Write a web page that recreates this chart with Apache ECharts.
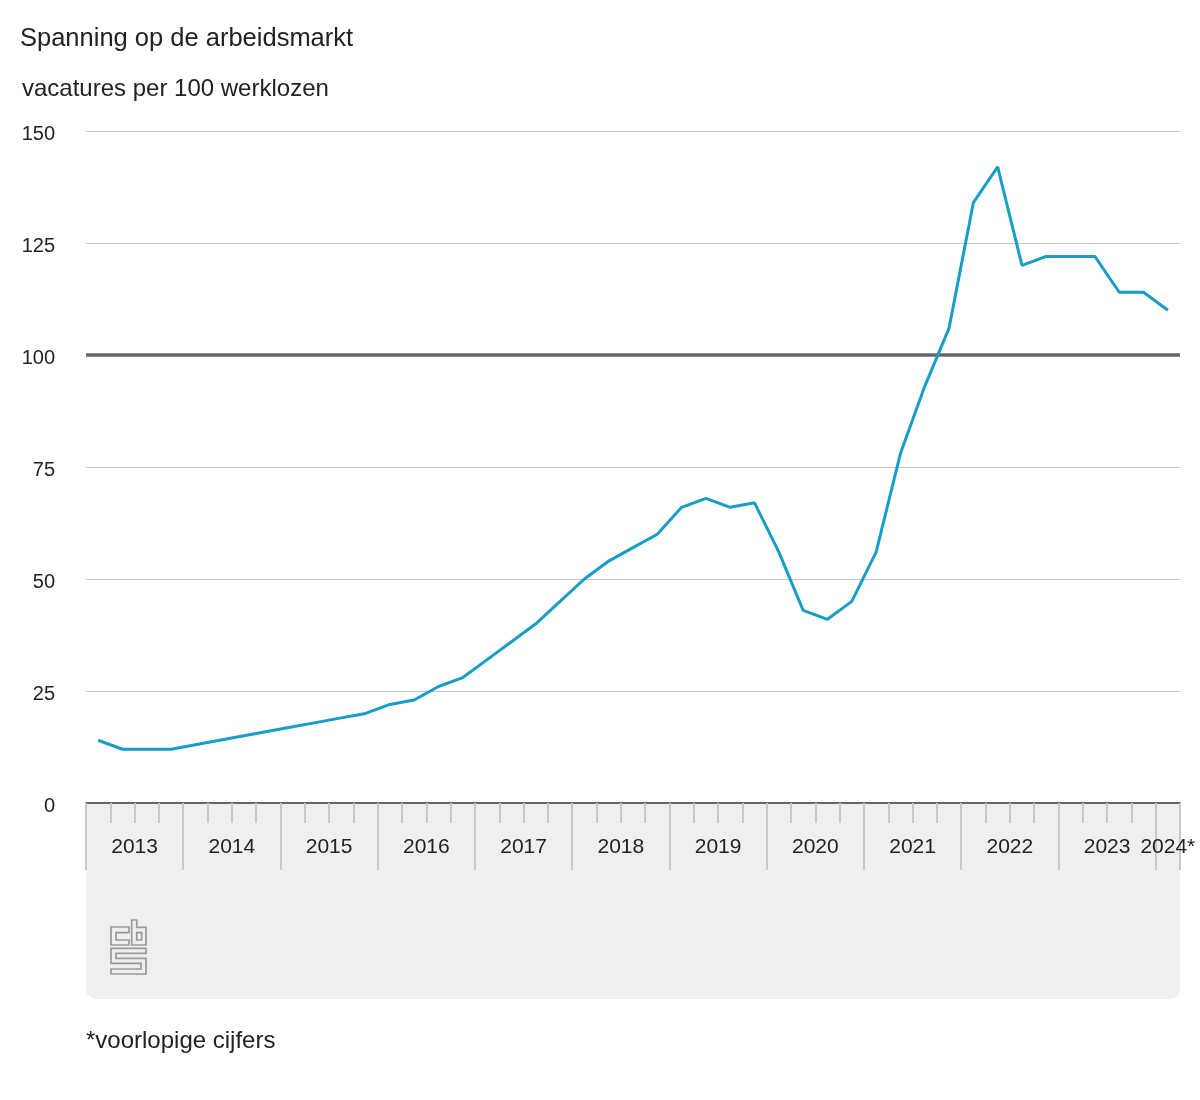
<!DOCTYPE html>
<html>
<head>
<meta charset="utf-8">
<script src="https://cdn.jsdelivr.net/npm/echarts@6/dist/echarts.min.js"></script>
<style>html,body{margin:0;padding:0;background:#fff}#c{width:1200px;height:1100px}</style>
</head>
<body>
<div id="c"></div>
<script>
// Data: vacatures per 100 werklozen, per kwartaal 2013 K1 – 2024 K1
var years = ['2013','2014','2015','2016','2017','2018','2019','2020','2021','2022','2023','2024*'];
var quarterNames = ['K1','K2','K3','K4'];
var values = [
  14, 12, 12, 12,      // 2013
  13, 14, 15, 16,      // 2014
  17, 18, 19, 20,      // 2015
  22, 23, 26, 28,      // 2016
  32, 36, 40, 45,      // 2017
  50, 54, 57, 60,      // 2018
  66, 68, 66, 67,      // 2019
  56, 43, 41, 45,      // 2020
  56, 78, 93, 106,     // 2021
  134, 142, 120, 122,  // 2022
  122, 122, 114, 114,  // 2023
  110                  // 2024
];
var yTicks = [0, 25, 50, 75, 100, 125, 150];
var referenceLevel = 100;

var nQ = values.length;
var seriesData = values.map(function (v, i) {
  return { value: [i + 0.5, v], name: years[Math.floor(i / 4)] + ' ' + quarterNames[i % 4] };
});
// year label centres (in quarter units)
var yearCentres = years.map(function (y, k) {
  var s = 4 * k, e = Math.min(4 * k + 4, nQ);
  return (s + e) / 2;
});

var FONT = '"Liberation Sans", Arial, sans-serif';
var LOGO = { fill: 'none', stroke: '#9a9a9a', lineWidth: 1.7 };
var chart = echarts.init(document.getElementById('c'));
chart.setOption({
  animation: false,
  backgroundColor: '#fff',
  textStyle: { fontFamily: FONT },
  title: [
    { text: 'Spanning op de arbeidsmarkt', left: 15, top: 21,
      textStyle: { fontFamily: FONT, fontSize: 25.5, fontWeight: 'normal', color: '#222' } },
    { text: 'vacatures per 100 werklozen', left: 17, top: 72,
      textStyle: { fontFamily: FONT, fontSize: 24, fontWeight: 'normal', color: '#222' } },
    { text: '*voorlopige cijfers', left: 81, top: 1024,
      textStyle: { fontFamily: FONT, fontSize: 24, fontWeight: 'normal', color: '#222' } }
  ],
  grid: { left: 86, right: 20, top: 131, bottom: 297, containLabel: false },
  graphic: [
    { type: 'rect', z: -10, shape: { x: 86, y: 803, width: 1094, height: 196, r: [0, 0, 10, 10] },
      style: { fill: '#efefef' } },
    { type: 'group', x: 111, y: 920, z: 5, children: [
      { type: 'polygon', shape: { points: [[18,7],[0,7],[0,25],[18,25],[18,20],[5,20],[5,12.7],[18,12.7]] }, style: LOGO },
      { type: 'polygon', shape: { points: [[20.7,0],[25.7,0],[25.7,7.3],[35,7.3],[35,25],[20.7,25]] }, style: LOGO },
      { type: 'rect', shape: { x: 25.7, y: 12.7, width: 5, height: 7.3 }, style: LOGO },
      { type: 'polygon', shape: { points: [[0,28.3],[35,28.3],[35,33.3],[5,33.3],[5,38.3],[35,38.3],[35,54],[0,54],[0,49],[30,49],[30,43.3],[0,43.3]] }, style: LOGO }
    ] }
  ],
  xAxis: [
    { type: 'value', position: 'bottom', min: 0, max: nQ, interval: 0.5,
      axisLine: { show: true, onZero: false, lineStyle: { color: '#666', width: 2 } },
      axisTick: { show: false }, splitLine: { show: false },
      axisLabel: { show: true, margin: 34, fontSize: 21, color: '#222', fontFamily: FONT,
        showMinLabel: true, showMaxLabel: true,
        formatter: function (v) {
          for (var k = 0; k < yearCentres.length; k++) {
            if (Math.abs(yearCentres[k] - v) < 1e-6) return years[k];
          }
          return '';
        } } },
    { type: 'value', position: 'bottom', min: 0, max: nQ, interval: 1,
      axisLine: { show: false, onZero: false },
      axisTick: { show: true, length: 20, lineStyle: { color: '#c8c8c8', width: 2 } },
      axisLabel: { show: false }, splitLine: { show: false } },
    { type: 'value', position: 'bottom', min: 0, max: nQ, interval: 4,
      axisLine: { show: false, onZero: false },
      axisTick: { show: true, length: 67, lineStyle: { color: '#c8c8c8', width: 2 } },
      axisLabel: { show: false }, splitLine: { show: false } }
  ],
  yAxis: {
    type: 'value', min: yTicks[0], max: yTicks[yTicks.length - 1], interval: 25,
    axisLine: { show: false }, axisTick: { show: false },
    axisLabel: { margin: 31, color: '#222', fontFamily: FONT,
      formatter: function (v) { return '{a|' + v + '}'; },
      rich: { a: { fontSize: 20, color: '#222', fontFamily: FONT, padding: [6, 0, 0, 0] } } },
    splitLine: { lineStyle: { color: '#c8c8c8', width: 1 } }
  },
  series: [{
    type: 'line', xAxisIndex: 0, yAxisIndex: 0, data: seriesData,
    showSymbol: false, symbol: 'none',
    lineStyle: { color: '#179dc6', width: 3 }, itemStyle: { color: '#179dc6' },
    z: 3,
    markLine: {
      silent: true, symbol: 'none', label: { show: false },
      lineStyle: { color: '#666', width: 3.5, type: 'solid' },
      data: [{ yAxis: referenceLevel }], z: 2
    }
  }]
});
</script>
</body>
</html>
